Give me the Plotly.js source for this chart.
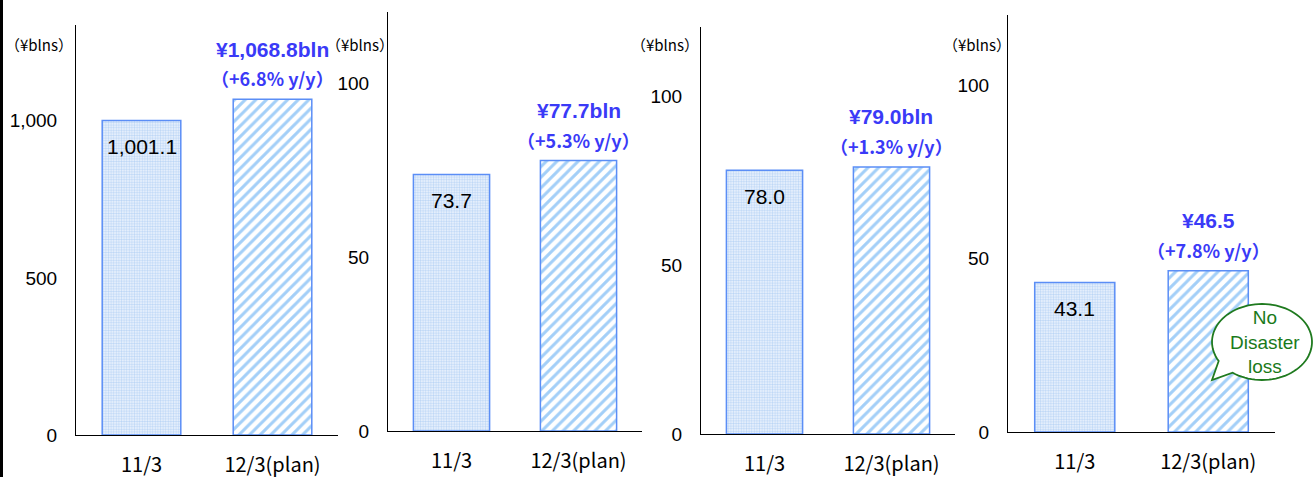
<!DOCTYPE html>
<html>
<head>
<meta charset="utf-8">
<script src="https://cdn.plot.ly/plotly-3.0.1.min.js"></script>
<style>
  html, body { margin: 0; padding: 0; background: #ffffff; }
  #chart { width: 1313px; height: 477px; }
</style>
</head>
<body>
<div id="chart"></div>
<script>
// Fiscal years compared in every panel
const categories = ['11/3', '12/3(plan)'];

// Results (¥ billions): FY11/3 actual, FY12/3 plan
const revenue = [1001.1, 1068.8];
const operatingIncome = [73.7, 77.7];
const ordinaryIncome = [78.0, 79.0];
const netIncome = [43.1, 46.5];

// Year-on-year change shown above each plan bar
const yoyChange = ['+6.8%', '+5.3%', '+1.3%', '+7.8%'];

// Axis ticks
const revenueTicks = [0, 500, 1000];
const incomeTicks = [0, 50, 100];

const unitLabel = '（¥blns）';
const calloutText = 'No<br>Disaster<br>loss';

const W = 1313, H = 477;
const px = x => x / W;
const py = y => 1 - y / H;

const series = [revenue, operatingIncome, ordinaryIncome, netIncome];
const tickSets = [revenueTicks, incomeTicks, incomeTicks, incomeTicks];
const withUnit = [true, true, true, false];

// Panel frames in pixels: left/right of the axis, baseline and top of the y axis
const frames = [
  { x0: 76,   x1: 338,  yb: 435, yt: 25, ymax: 1305, ux: 39,  uy: 45 },
  { x0: 388,  x1: 642,  yb: 431, yt: 12, ymax: 120.4, ux: 360, uy: 45 },
  { x0: 701,  x1: 955,  yb: 434, yt: 27, ymax: 120.4, ux: 665, uy: 45 },
  { x0: 1008, x1: 1275, yb: 432, yt: 15, ymax: 120.2, ux: 977, uy: 44 }
];

const fmt = v => v.toLocaleString('en-US', { minimumFractionDigits: 1, maximumFractionDigits: 1 });

const BLUE_TEXT = '#3a3af7';
const BAR_EDGE = '#5b8ef6';
const SANS = 'Liberation Sans, Arial, sans-serif';
const JP = 'Noto Sans CJK JP, sans-serif';

const data = [];
const layout = {
  width: W, height: H,
  margin: { l: 0, r: 0, t: 0, b: 0 },
  paper_bgcolor: '#ffffff',
  plot_bgcolor: 'rgba(0,0,0,0)',
  showlegend: false,
  annotations: [],
  shapes: []
};

series.forEach((vals, i) => {
  const n = i + 1;
  const xa = n === 1 ? 'x' : 'x' + n;
  const ya = n === 1 ? 'y' : 'y' + n;
  const f = frames[i];

  // Actual year: fine dotted fill
  data.push({
    type: 'bar', x: [categories[0]], y: [vals[0]], xaxis: xa, yaxis: ya,
    width: 0.6,
    marker: {
      color: '#ffffff',
      line: { color: BAR_EDGE, width: 1.5 },
      pattern: { shape: '.', fgcolor: '#bcd6f6', bgcolor: '#f2f7fe', size: 2.6, solidity: 0.5, fillmode: 'replace' }
    },
    hoverinfo: 'skip'
  });
  // Plan year: diagonal hatching
  data.push({
    type: 'bar', x: [categories[1]], y: [vals[1]], xaxis: xa, yaxis: ya,
    width: 0.6,
    marker: {
      color: '#ffffff',
      line: { color: BAR_EDGE, width: 1.5 },
      pattern: { shape: '/', fgcolor: '#a3cff8', bgcolor: '#ffffff', size: 7.5, solidity: 0.4, fillmode: 'replace' }
    },
    hoverinfo: 'skip'
  });

  const xKey = n === 1 ? 'xaxis' : 'xaxis' + n;
  const yKey = n === 1 ? 'yaxis' : 'yaxis' + n;
  layout[xKey] = {
    domain: [px(f.x0), px(f.x1)],
    anchor: ya,
    type: 'category',
    range: [-0.5, 1.5],
    showline: true, linecolor: '#000000', linewidth: 1,
    showgrid: false, zeroline: false, ticks: '',
    ticklabelstandoff: 12,
    tickfont: { family: JP, size: 20, color: '#000000' },
    fixedrange: true
  };
  layout[yKey] = {
    domain: [py(f.yb), py(f.yt)],
    anchor: xa,
    range: [0, f.ymax],
    showline: true, linecolor: '#000000', linewidth: 1,
    showgrid: false, zeroline: false, ticks: '',
    tickvals: tickSets[i],
    tickformat: ',d',
    ticklabelstandoff: 14,
    tickfont: { family: SANS, size: 19, color: '#000000' },
    fixedrange: true
  };

  // Unit caption above each y axis
  layout.annotations.push({
    xref: 'paper', yref: 'paper', x: px(f.ux), y: py(f.uy),
    xanchor: 'center', yanchor: 'middle', showarrow: false,
    text: unitLabel, font: { family: JP, size: 15, color: '#000000' }
  });

  // Actual value printed inside the first bar
  layout.annotations.push({
    xref: xa, yref: ya, x: categories[0], y: vals[0],
    xanchor: 'center', yanchor: 'middle', yshift: -26, showarrow: false,
    text: fmt(vals[0]), font: { family: SANS, size: 21, color: '#000000' }
  });

  // Plan value and growth above the second bar
  layout.annotations.push({
    xref: xa, yref: ya, x: categories[1], y: vals[1],
    xanchor: 'center', yanchor: 'middle', yshift: 50, showarrow: false,
    text: '¥' + fmt(vals[1]) + (withUnit[i] ? 'bln' : ''),
    font: { family: SANS, size: 21, color: BLUE_TEXT, weight: 'bold' }
  });
  layout.annotations.push({
    xref: xa, yref: ya, x: categories[1], y: vals[1],
    xanchor: 'center', yanchor: 'middle', yshift: 21, showarrow: false,
    text: '（' + yoyChange[i] + ' y/y）',
    font: { family: JP, size: 18, color: BLUE_TEXT, weight: 'bold' }
  });
});

// Speech bubble next to the net income plan bar
(function () {
  const cx = 1262, cy = 342, rx = 50, ry = 38;
  const pts = [];
  for (let a = 150; a <= 488; a += 4) {
    const t = a * Math.PI / 180;
    pts.push([cx + rx * Math.cos(t), cy + ry * Math.sin(t)]);
  }
  pts.push([1212, 380]);
  const d = 'M ' + pts.map(p => px(p[0]).toFixed(5) + ',' + py(p[1]).toFixed(5)).join(' L ') + ' Z';
  layout.shapes.push({
    type: 'path', xref: 'paper', yref: 'paper', path: d,
    fillcolor: '#ffffff', line: { color: '#1f7a1f', width: 1.8 }, layer: 'above'
  });
  layout.annotations.push({
    xref: 'paper', yref: 'paper', x: px(1265), y: py(342),
    xanchor: 'center', yanchor: 'middle', showarrow: false,
    text: calloutText, font: { family: SANS, size: 19, color: '#1a7a1a' }
  });
})();

// Frame edge on the left
layout.shapes.push({
  type: 'line', xref: 'paper', yref: 'paper',
  x0: px(1.5), x1: px(1.5), y0: 0, y1: 1,
  line: { color: '#000000', width: 3 }, layer: 'above'
});

Plotly.newPlot('chart', data, layout, { staticPlot: true, displayModeBar: false });
</script>
</body>
</html>
